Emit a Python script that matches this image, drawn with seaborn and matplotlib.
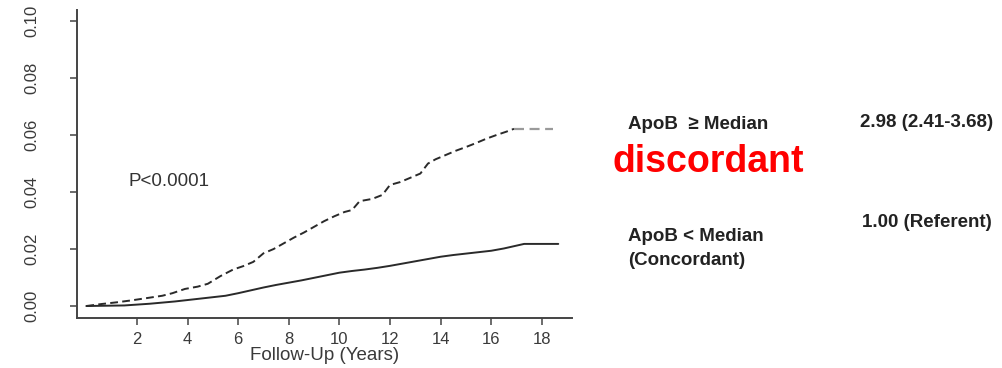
import matplotlib
matplotlib.use("Agg")
import matplotlib.pyplot as plt
import seaborn as sns
import pandas as pd

# ---- data ----
years_high = [0.0, 0.6, 1.2, 1.8, 2.4, 3.0, 3.4, 3.9, 4.4, 4.8, 5.3, 5.8, 6.2, 6.6,
              7.0, 7.4, 7.8, 8.2, 8.6, 9.0, 9.4, 9.8, 10.2, 10.5, 10.8, 11.3, 11.7,
              12.0, 12.4, 12.8, 13.2, 13.5, 13.8, 14.2, 14.6, 15.0, 15.4, 15.8,
              16.2, 16.6, 16.9]
incid_high = [0.0, 0.0007, 0.0013, 0.0020, 0.0028, 0.0036, 0.0045, 0.0060, 0.0068,
              0.0078, 0.0105, 0.0128, 0.0140, 0.0155, 0.0185, 0.0200, 0.0220,
              0.0240, 0.0258, 0.0278, 0.0298, 0.0315, 0.0330, 0.0337, 0.0368,
              0.0376, 0.0390, 0.0425, 0.0435, 0.0450, 0.0465, 0.0500, 0.0515,
              0.0530, 0.0545, 0.0558, 0.0572, 0.0587, 0.0600, 0.0612, 0.0622]
tail_high_years = [16.9, 18.45]
tail_high_incid = [0.0622, 0.0622]

years_low = [0.0, 1.5, 2.5, 3.5, 4.5, 5.5, 6.0, 6.5, 7.0, 7.5, 8.0, 8.5, 9.0, 9.5,
             10.0, 10.5, 11.0, 11.5, 12.0, 12.5, 13.0, 13.5, 14.0, 14.5, 15.0,
             15.5, 16.0, 16.5, 17.0, 17.3, 18.65]
incid_low = [0.0, 0.0002, 0.0008, 0.0016, 0.0026, 0.0036, 0.0045, 0.0055, 0.0065,
             0.0074, 0.0082, 0.0090, 0.0099, 0.0108, 0.0117, 0.0123, 0.0128,
             0.0134, 0.0141, 0.0149, 0.0157, 0.0165, 0.0173, 0.0179, 0.0184,
             0.0189, 0.0194, 0.0202, 0.0212, 0.0218, 0.0218]

x_ticks = [2, 4, 6, 8, 10, 12, 14, 16, 18]
y_ticks = [0.00, 0.02, 0.04, 0.06, 0.08, 0.10]
y_tick_labels = ["0.00", "0.02", "0.04", "0.06", "0.08", "0.10"]

# ---- style ----
sns.set_theme(style="white")
plt.rcParams["font.family"] = ["Liberation Sans", "DejaVu Sans"]

fig = plt.figure(figsize=(10.02, 3.68), dpi=100)
ax = fig.add_axes([0.0768, 0.1359, 0.4940, 0.8369])

ink = "#2a2a2a"
df_high = pd.DataFrame({"t": years_high, "v": incid_high})
df_tail = pd.DataFrame({"t": tail_high_years, "v": tail_high_incid})
df_low = pd.DataFrame({"t": years_low, "v": incid_low})

sns.lineplot(data=df_high, x="t", y="v", ax=ax, color=ink, lw=1.4,
             linestyle=(0, (4, 2.2)))
sns.lineplot(data=df_tail, x="t", y="v", ax=ax, color="#9a9a9a", lw=1.6,
             linestyle=(0, (4.5, 2.5)))
sns.lineplot(data=df_low, x="t", y="v", ax=ax, color=ink, lw=1.4)

ax.set_xlim(-0.37, 19.19)
ax.set_ylim(-0.0042, 0.1039)
ax.set_xticks(x_ticks)
ax.set_xticklabels([str(v) for v in x_ticks])
ax.set_yticks(y_ticks)
ax.set_yticklabels(y_tick_labels, rotation=90, va="center")

for s in ["top", "right"]:
    ax.spines[s].set_visible(False)
for s in ["left", "bottom"]:
    ax.spines[s].set_color("#444444")
    ax.spines[s].set_linewidth(1.4)

ax.tick_params(axis="both", direction="out", length=5, width=1.1, color="#444444",
               labelcolor="#3a3a3a", labelsize=12)
ax.tick_params(axis="x", pad=5, bottom=True)
ax.tick_params(axis="y", pad=22, left=True)

ax.set_xlabel("Follow-Up (Years)", fontsize=13.5, color="#3a3a3a", labelpad=0)
ax.set_ylabel("")

ax.text(1.68, 0.0420, "P<0.0001", fontsize=13.5, color="#333333",
        ha="left", va="baseline")

def ftxt(xp, yp, s, **kw):
    fig.text(xp / 1002, 1 - yp / 368, s, ha="left", va="baseline", **kw)

ftxt(628, 129, "ApoB  \u2265 Median", fontsize=13.5, fontweight="bold", color="#222222")
ftxt(860, 127, "2.98 (2.41-3.68)", fontsize=13.5, fontweight="bold", color="#222222")
ftxt(612, 172, "discordant", fontsize=27, fontweight="bold", color="#ff0000")
ftxt(862, 227, "1.00 (Referent)", fontsize=13.5, fontweight="bold", color="#222222")
ftxt(628, 241, "ApoB < Median", fontsize=13.5, fontweight="bold", color="#222222")
ftxt(628, 265, "(Concordant)", fontsize=13.5, fontweight="bold", color="#222222")

fig.savefig("out.png", dpi=100)
